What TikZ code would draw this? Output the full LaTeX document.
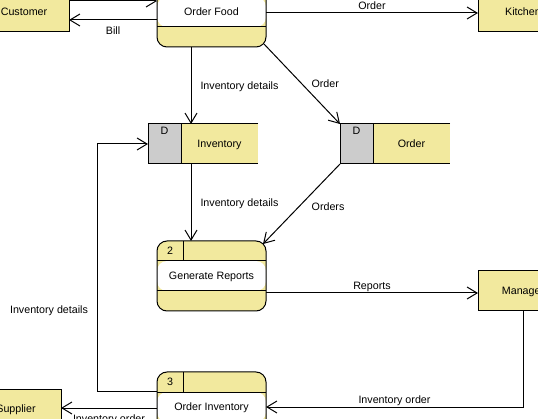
\documentclass[tikz,border=0pt]{standalone}
\usepackage{fontspec}
\setmainfont{Liberation Sans}
\usetikzlibrary{arrows.meta,calc}
\definecolor{ylw}{RGB}{242,233,158}
\definecolor{dgray}{RGB}{204,204,204}
\begin{document}
\begin{tikzpicture}[x=1pt,y=-1pt,
  font=\fontsize{10.7}{12}\selectfont, line width=1pt,
  every node/.style={text height=9.7pt, text depth=2.27pt},
  ent/.style={draw, fill=ylw, minimum width=90pt, minimum height=40pt, inner sep=0pt, outer sep=0pt},
  proc/.style={draw, fill=ylw, rounded corners=10pt, minimum width=109pt, minimum height=70pt,
    inner sep=0pt, outer sep=0pt,
    path picture={
      \fill[white] ([yshift=-20pt]path picture bounding box.north west) rectangle ([yshift=20pt]path picture bounding box.south east);
      \draw ([yshift=-20pt]path picture bounding box.north west) -- ([yshift=-20pt]path picture bounding box.north east);
      \draw ([yshift=20pt]path picture bounding box.south west) -- ([yshift=20pt]path picture bounding box.south east);
      \draw ([xshift=26pt]path picture bounding box.north west) -- ([xshift=26pt,yshift=-20pt]path picture bounding box.north west);
    }},
  store/.style={fill=ylw, minimum width=110pt, minimum height=40pt, inner sep=0pt, outer sep=0pt,
    path picture={\fill[dgray] (path picture bounding box.north west) rectangle ([xshift=33pt]path picture bounding box.south west);}},
  flow/.style={-{Straight Barb[length=10pt,width=12pt,line width=1pt]}},
  lbl/.style={inner sep=0pt}]
\useasboundingbox (0,0) rectangle (538,419);

% external entities
\node[ent] (cust) at (24,12) {Customer};
\node[ent] (kit) at (523,12) {Kitchen};
\node[ent] (mgr) at (523,291) {Manager};
\node[ent] (sup) at (16,409) {Supplier};

% processes
\node[proc] (of) at (211.5,12) {Order Food};
\node[lbl] (ofn) at ($(of.north west)+(13,10)$) {1};
\node[proc] (gr) at (211.5,276) {Generate Reports};
\node[lbl] (grn) at ($(gr.north west)+(13,10)$) {2};
\node[proc] (oi) at (211.5,407) {Order Inventory};
\node[lbl] (oin) at ($(oi.north west)+(13,10)$) {3};

% data stores
\node[store] (inv) at (203,144) {};
\draw (inv.north east) -- (inv.north west) -- (inv.south west) -- (inv.south east);
\draw ($(inv.north west)+(33,0)$) -- ($(inv.south west)+(33,0)$);
\node[lbl] (invd) at ($(inv.north west)+(16.5,7)$) {D};
\node[lbl] (invt) at ($(inv.center)+(16.5,0)$) {Inventory};

\node[store] (ord) at (395,144) {};
\draw (ord.north east) -- (ord.north west) -- (ord.south west) -- (ord.south east);
\draw ($(ord.north west)+(33,0)$) -- ($(ord.south west)+(33,0)$);
\node[lbl] (ordd) at ($(ord.north west)+(16.5,7)$) {D};
\node[lbl] (ordt) at ($(ord.center)+(16.5,0)$) {Order};

% connectors
\draw[flow] (cust.east |- 0,1) -- (of.west |- 0,1);
\draw[flow] (of.west |- 0,20) -- (cust.east |- 0,20)
  node[lbl, midway, yshift=-11pt] {Bill};
\draw[flow] (of.east |- 0,13) -- (kit.west |- 0,13)
  node[lbl, midway, yshift=7pt] {Order};
\draw[flow] (of.south -| 191,0) -- (inv.north -| 191,0)
  node[lbl, midway, anchor=west, xshift=9pt] {Inventory details};
\coordinate (ofse) at ($(of.south east)+(-2,-3)$);
\draw[flow] (ofse) -- (ord.north west)
  node[lbl, pos=0.5, anchor=west, xshift=9pt] {Order};
\draw[flow] (inv.south -| 191,0) -- (gr.north -| 191,0)
  node[lbl, midway, anchor=west, xshift=9pt] {Inventory details};
\coordinate (grne) at ($(gr.north east)+(-3,3)$);
\draw[flow] (ord.south west) -- (grne)
  node[lbl, pos=0.53, anchor=west, xshift=12pt] {Orders};
\draw[flow] (gr.east |- 0,293) -- (mgr.west |- 0,293)
  node[lbl, midway, yshift=7pt] {Reports};
\draw[flow] (mgr.south) |- (oi.east |- 0,407)
  node[lbl, pos=0.75, yshift=7pt] {Inventory order};
\draw[flow] (oi.west |- 0,391) -- (97,391) |- (inv.west);
\node[lbl] (idl) at (49,310) {Inventory details};
\draw[flow] (oi.west |- 0,408) -- (sup.east |- 0,408)
  node[lbl, midway, yshift=-11pt] {Inventory order};
\end{tikzpicture}
\end{document}
